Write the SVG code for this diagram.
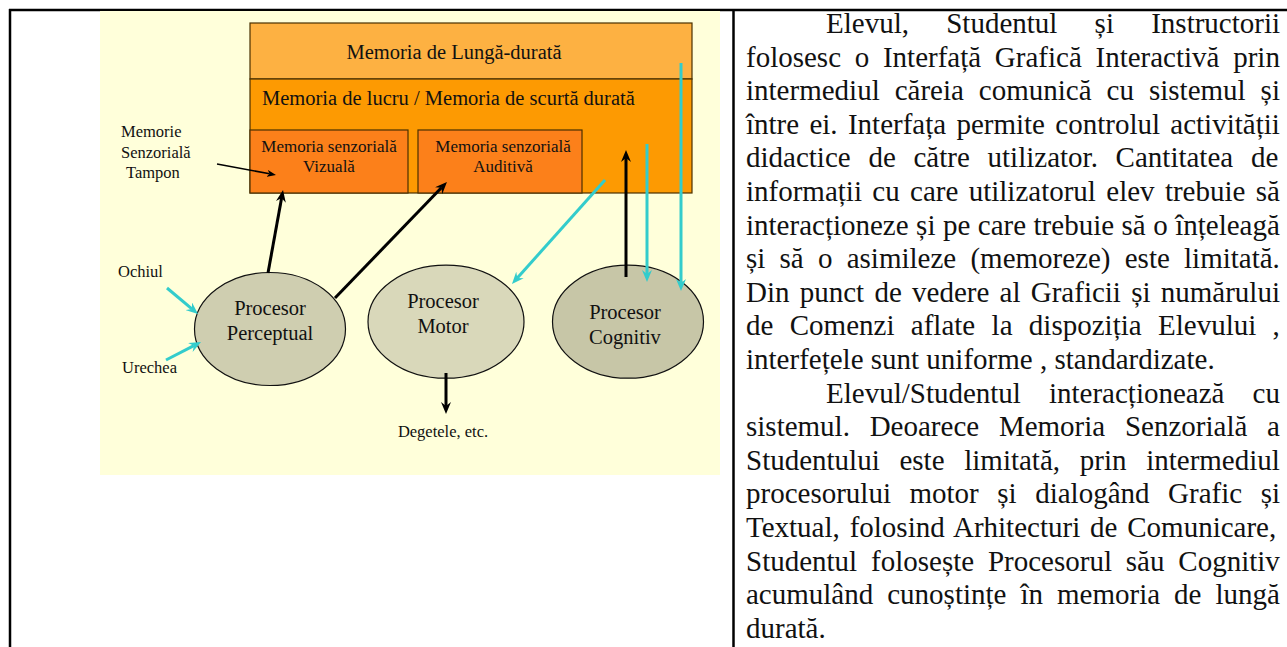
<svg xmlns="http://www.w3.org/2000/svg" width="1287" height="647" viewBox="0 0 1287 647">
<style>
text{font-family:"Liberation Serif","Times New Roman",serif;fill:#111}
.frame{stroke:#000;stroke-width:2.5;fill:none}
.mem{stroke:#4a3000;stroke-width:1.2}
.big{font-size:20.5px}
.sm{font-size:17px}
.lab{font-size:16.5px}
.proc{stroke:#111;stroke-width:1.2}
.blk{stroke:#000;stroke-width:3;fill:none;marker-end:url(#ab)}
.cy{stroke:#33CCCC;stroke-width:3;fill:none;marker-end:url(#ac)}
.thin{stroke:#000;stroke-width:1.6;fill:none;marker-end:url(#at)}
.body{font-size:29px}
</style>
<defs>
<marker id="ab" viewBox="0 0 12 10" refX="4" refY="5" markerWidth="12" markerHeight="10" markerUnits="userSpaceOnUse" orient="auto"><path d="M0,0 L12,5 L0,10 L4,5 z" fill="#000"/></marker>
<marker id="ac" viewBox="0 0 12 10" refX="4" refY="5" markerWidth="12" markerHeight="10" markerUnits="userSpaceOnUse" orient="auto"><path d="M0,0 L12,5 L0,10 L4,5 z" fill="#33CCCC"/></marker>
<marker id="at" viewBox="0 0 9 7" refX="2.5" refY="3.5" markerWidth="9" markerHeight="7" markerUnits="userSpaceOnUse" orient="auto"><path d="M0,0 L9,3.5 L0,7 L2.5,3.5 z" fill="#000"/></marker>
</defs>
<rect width="1287" height="647" fill="#fff"/>
<g id="frame">
<line class="frame" x1="9" y1="10" x2="1287" y2="10"/>
<line class="frame" x1="10" y1="9" x2="10" y2="647"/>
<line class="frame" x1="733.5" y1="9" x2="733.5" y2="647"/>
</g>
<rect id="panel" x="100" y="11" width="620" height="464" fill="#FFFFDA"/>
<g id="longterm">
<rect class="mem" x="250" y="23" width="442" height="56" fill="#FDB142"/>
<text class="big" x="454" y="58.5" text-anchor="middle">Memoria de Lungă-durată</text>
</g>
<g id="working">
<rect class="mem" x="250" y="79" width="442" height="114" fill="#FD9A02"/>
<text class="big" x="262" y="105">Memoria de lucru / Memoria de scurtă durată</text>
</g>
<g id="visual">
<rect class="mem" x="250" y="130" width="158" height="63" fill="#FC801A"/>
<text class="sm" x="329" y="151.5" text-anchor="middle">Memoria senzorială</text>
<text class="sm" x="329" y="172" text-anchor="middle">Vizuală</text>
</g>
<g id="auditory">
<rect class="mem" x="418" y="130" width="164" height="63" fill="#FC801A"/>
<text class="sm" x="503" y="151.5" text-anchor="middle">Memoria senzorială</text>
<text class="sm" x="503" y="172" text-anchor="middle">Auditivă</text>
</g>
<g id="buffer-label">
<text class="lab" x="121" y="137">Memorie</text>
<text class="lab" x="121" y="157.5">Senzorială</text>
<text class="lab" x="126" y="178">Tampon</text>
</g>
<g id="perceptual">
<ellipse class="proc" cx="270" cy="329" rx="75.5" ry="56.5" fill="#CFCEB0"/>
<text class="big" x="270" y="315" text-anchor="middle">Procesor</text>
<text class="big" x="270" y="340" text-anchor="middle">Perceptual</text>
</g>
<g id="motor">
<ellipse class="proc" cx="446" cy="321.7" rx="78" ry="56.5" fill="#D9D8BA"/>
<text class="big" x="443" y="308" text-anchor="middle">Procesor</text>
<text class="big" x="443" y="333" text-anchor="middle">Motor</text>
</g>
<g id="cognitive">
<ellipse class="proc" cx="628" cy="321.7" rx="75.5" ry="56.5" fill="#C7C6A7"/>
<text class="big" x="625" y="319" text-anchor="middle">Procesor</text>
<text class="big" x="625" y="344" text-anchor="middle">Cognitiv</text>
</g>
<g id="eye"><text class="lab" x="118" y="277">Ochiul</text></g>
<g id="ear"><text class="lab" x="122" y="373">Urechea</text></g>
<g id="fingers"><text class="lab" x="443" y="437" text-anchor="middle">Degetele, etc.</text></g>
<g id="connectors">
<line class="blk" x1="268" y1="273" x2="281.6" y2="197.9"/>
<line class="blk" x1="335" y1="298" x2="441.4" y2="187.8"/>
<line class="cy" x1="605" y1="180" x2="517.3" y2="278"/>
<line class="blk" x1="626" y1="277" x2="626" y2="158"/>
<line class="cy" x1="647" y1="144" x2="647" y2="274"/>
<line class="cy" x1="681" y1="63" x2="681" y2="283"/>
<line class="blk" x1="446" y1="373" x2="446" y2="406"/>
<line class="cy" x1="167" y1="288" x2="191.9" y2="308.9"/>
<line class="cy" x1="166" y1="360" x2="193.9" y2="345.7"/>
<line class="thin" x1="217" y1="164" x2="269.6" y2="173.8"/>
</g>
<g id="description" class="body">
<text x="826" y="33" style="word-spacing:30px">Elevul, Studentul și Instructorii</text>
<text x="746" y="66.6" style="word-spacing:6.46px">folosesc o Interfață Grafică Interactivă prin</text>
<text x="746" y="100.2" style="word-spacing:7.74px">intermediul căreia comunică cu sistemul și</text>
<text x="746" y="133.8" style="word-spacing:3.05px">între ei. Interfața permite controlul activității</text>
<text x="746" y="167.4" style="word-spacing:10.48px">didactice de către utilizator. Cantitatea de</text>
<text x="746" y="201" style="word-spacing:3.1px">informații cu care utilizatorul elev trebuie să</text>
<text x="746" y="234.6" style="word-spacing:0.24px">interacționeze și pe care trebuie să o înțeleagă</text>
<text x="746" y="268.2" style="word-spacing:6.98px">și să o asimileze (memoreze) este limitată.</text>
<text x="746" y="301.8" style="word-spacing:3px">Din punct de vedere al Graficii și numărului</text>
<text x="746" y="335.4" style="word-spacing:9.12px">de Comenzi aflate la dispoziția Elevului ,</text>
<text x="746" y="369">interfețele sunt uniforme , standardizate.</text>
<text x="826" y="402.6" style="word-spacing:20.8px">Elevul/Studentul interacționează cu</text>
<text x="746" y="436.2" style="word-spacing:12.5px">sistemul. Deoarece Memoria Senzorială a</text>
<text x="746" y="469.8" style="word-spacing:12.45px">Studentului este limitată, prin intermediul</text>
<text x="746" y="503.4" style="word-spacing:11.28px">procesorului motor și dialogând Grafic și</text>
<text x="746" y="537" style="word-spacing:2.6px">Textual, folosind Arhitecturi de Comunicare,</text>
<text x="746" y="570.6" style="word-spacing:6.6px">Studentul folosește Procesorul său Cognitiv</text>
<text x="746" y="604.2" style="word-spacing:6.76px">acumulând cunoștințe în memoria de lungă</text>
<text x="746" y="637.8">durată.</text>
</g>
</svg>
